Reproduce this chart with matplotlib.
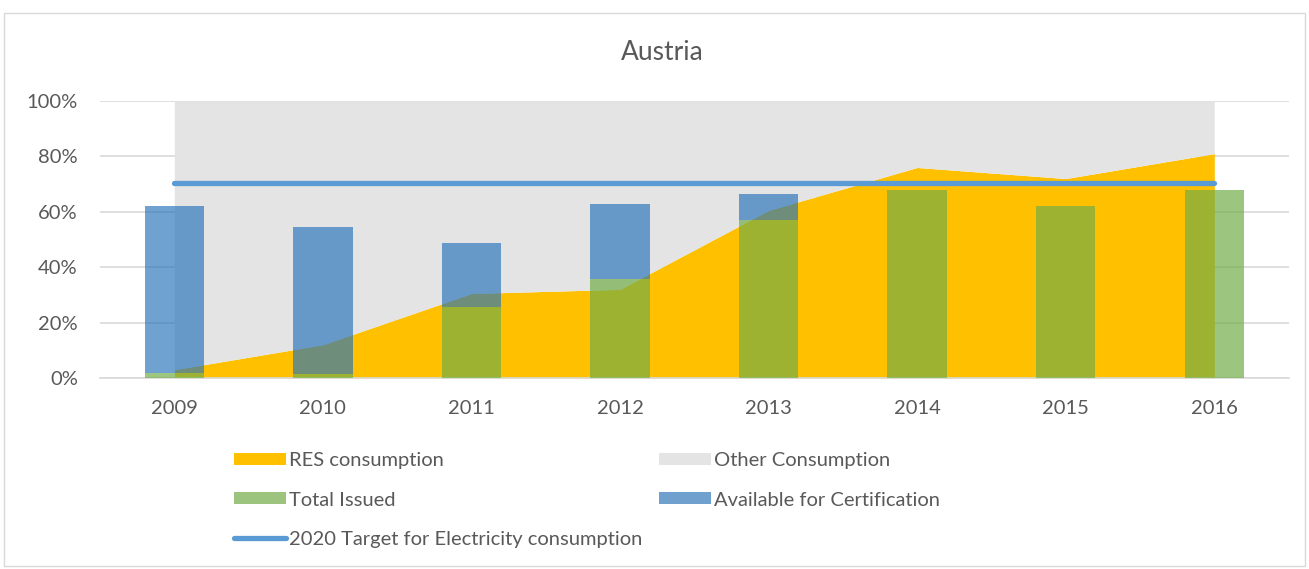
import matplotlib.pyplot as plt
from matplotlib.patches import Patch, Rectangle
from matplotlib.lines import Line2D
from matplotlib.ticker import PercentFormatter

plt.rcParams['font.family'] = ['Lato', 'DejaVu Sans']

years = ["2009", "2010", "2011", "2012", "2013", "2014", "2015", "2016"]
res_consumption = [0.03, 0.12, 0.305, 0.32, 0.605, 0.76, 0.72, 0.81]
total_issued = [0.018, 0.013, 0.257, 0.357, 0.57, 0.679, 0.62, 0.678]
available = [0.602, 0.532, 0.23, 0.271, 0.094, 0.0, 0.0, 0.0]
target_2020 = 0.705

x = list(range(len(years)))

fig = plt.figure(figsize=(13.09, 5.69), dpi=100)
ax = fig.add_axes([0.0764, 0.3357, 0.908, 0.4868])

ax.fill_between(x, 0, res_consumption, color="#FFC000", lw=0, zorder=2)
ax.fill_between(x, res_consumption, 1, color="#E4E4E4", lw=0, zorder=2)

ax.bar(x, total_issued, width=0.4, color="#70AD47", alpha=0.69, lw=0, zorder=3)
ax.bar(x, available, width=0.4, bottom=total_issued, color="#2874B9", alpha=0.67, lw=0, zorder=3)

ax.plot([x[0], x[-1]], [target_2020, target_2020], color="#5B9BD5", lw=3.8,
        solid_capstyle="round", zorder=4)

ax.set_xlim(-0.5, 7.5)
ax.set_ylim(0, 1)
ax.set_xticks(x)
ax.set_xticklabels(years)
ax.set_yticks([0, 0.2, 0.4, 0.6, 0.8, 1.0])
ax.yaxis.set_major_formatter(PercentFormatter(1.0, decimals=0))
ax.tick_params(length=0, labelsize=14.5, colors="#595959")
ax.tick_params(axis="x", pad=16)
ax.tick_params(axis="y", pad=16)
ax.grid(axis="y", color="#D9D9D9", lw=1.2, zorder=0)
ax.set_axisbelow(True)
for s in ["top", "right", "left"]:
    ax.spines[s].set_visible(False)
ax.spines["bottom"].set_color("#D9D9D9")
ax.spines["bottom"].set_linewidth(1.2)

fig.text(0.506, 0.907, "Austria", ha="center", va="center", fontsize=19, color="#595959")

handles = [
    Patch(color="#FFC000", lw=0),
    Patch(color="#9DC47E", lw=0),
    Line2D([0], [0], color="#5B9BD5", lw=3.8, solid_capstyle="round"),
    Patch(color="#E4E4E4", lw=0),
    Patch(color="#6FA0CE", lw=0),
]
labels = ["RES consumption", "Total Issued", "2020 Target for Electricity consumption",
          "Other Consumption", "Available for Certification"]
fig.legend(handles, labels, ncol=2, loc="upper left", bbox_to_anchor=(0.1788, 0.205),
           frameon=False, fontsize=14.5, labelcolor="#595959", handlelength=2.6,
           handleheight=0.55, handletextpad=0.15, labelspacing=1.1, columnspacing=0.8,
           borderpad=0, borderaxespad=0)

fig.patches.append(Rectangle((0.003, 0.005), 0.994, 0.972, transform=fig.transFigure,
                             fill=False, edgecolor="#D9D9D9", lw=1))

fig.savefig("out.png", dpi=100)
